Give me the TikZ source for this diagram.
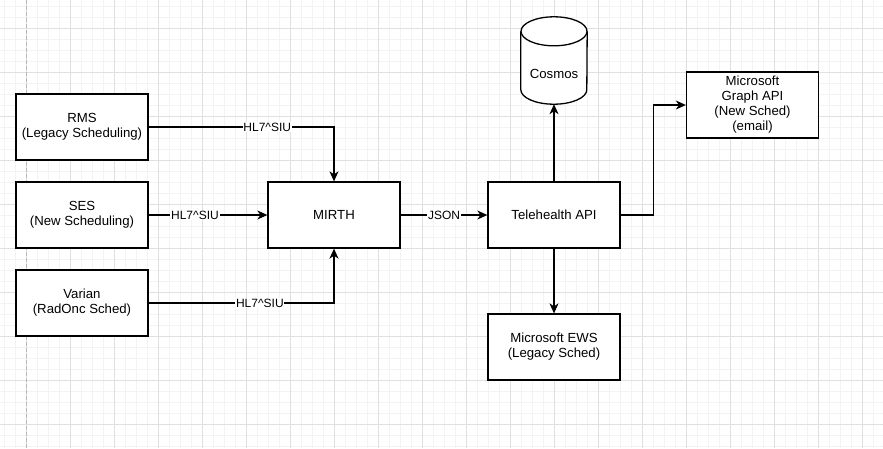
\documentclass[tikz,border=0pt]{standalone}
\usepackage{fontspec}
\setmainfont{Liberation Sans}
\usetikzlibrary{arrows.meta}
\definecolor{gridminor}{HTML}{F3F3F3}
\definecolor{gridmajor}{HTML}{E0E0E0}
\definecolor{pagebreak}{HTML}{B8B8B8}
\tikzset{
  box/.style={draw, fill=white, line width=1.3pt, minimum width=132pt, minimum height=66pt,
    align=center, inner sep=0pt, font=\fontsize{13.2}{15}\selectfont},
  conn/.style={line width=1.2pt, -{Stealth[length=10pt,width=9pt,inset=3pt]}},
  elabel/.style={fill=white, inner sep=0.8pt, font=\fontsize{12}{14}\selectfont},
  gminor/.style={draw=gridminor, line width=0.9pt},
  gmajor/.style={draw=gridmajor, line width=0.9pt},
}
\begin{document}
\begin{tikzpicture}[x=1pt, y=-1pt]
\useasboundingbox (0,0) rectangle (883,448);
\fill[white] (0,0) rectangle (883,448);
% grid
\foreach \i in {0,...,80} {\draw[gminor] ({4.3+11*\i},0) -- ({4.3+11*\i},448);}
\foreach \i in {0,...,40} {\draw[gminor] (0,{6.3+11*\i}) -- (883,{6.3+11*\i});}
\foreach \i in {0,...,19} {\draw[gmajor] ({26.3+44*\i},0) -- ({26.3+44*\i},448);}
\foreach \i in {0,...,9} {\draw[gmajor] (0,{28.3+44*\i}) -- (883,{28.3+44*\i});}
\draw[pagebreak, line width=0.9pt, dash pattern=on 4pt off 2pt] (26.5,0) -- (26.5,448);

% nodes
\node[box] (rms) at (82,127) {RMS\\(Legacy Scheduling)};
\node[box] (ses) at (82,215) {SES\\(New Scheduling)};
\node[box] (varian) at (82,303) {Varian\\(RadOnc Sched)};
\node[box] (mirth) at (334,215) {MIRTH};
\node[box] (tele) at (554,215) {Telehealth API};
\node[box] (ews) at (554,347) {Microsoft EWS\\(Legacy Sched)};
\node[box] (graph) at (752.5,105) {Microsoft\\Graph API\\(New Sched)\\(email)};

% cosmos cylinder
\node[minimum width=66pt, minimum height=87pt, inner sep=0pt] (cosmos) at (554,60.5) {};
\draw[line width=1.3pt, fill=white]
  ([yshift=-14.5pt]cosmos.north west) -- ([yshift=14.5pt]cosmos.south west)
  arc[start angle=180, end angle=360, x radius=33pt, y radius=14.5pt]
  -- ([yshift=-14.5pt]cosmos.north east);
\draw[line width=1.3pt, fill=white] ([yshift=-14.5pt]cosmos.north) ellipse[x radius=33pt, y radius=14.5pt];
\node[font=\fontsize{13.2}{15}\selectfont] (cosmoslabel) at ([yshift=-13.5pt]cosmos.center) {Cosmos};

% connectors
\draw[conn] (rms.east) -| node[elabel, pos=0.32] {HL7\textasciicircum SIU} (mirth.north);
\draw[conn] (ses.east) -- node[elabel, pos=0.39] {HL7\textasciicircum SIU} (mirth.west);
\draw[conn] (varian.east) -| node[elabel, pos=0.30] {HL7\textasciicircum SIU} (mirth.south);
\draw[conn] (mirth.east) -- node[elabel] {JSON} (tele.west);
\draw[conn] (tele.north) -- (cosmos.south);
\draw[conn] (tele.south) -- (ews.north);
\draw[conn] (tele.east) -- ++(33,0) |- (graph.west);
\end{tikzpicture}
\end{document}
